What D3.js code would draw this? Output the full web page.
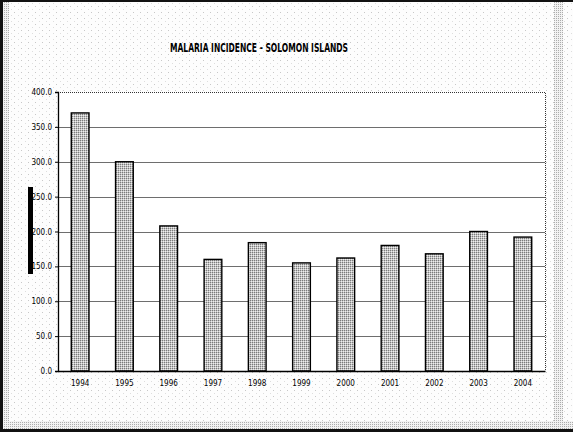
<!DOCTYPE html>
<html>
<head>
<meta charset="utf-8">
<script src="https://cdn.jsdelivr.net/npm/d3@7"></script>
<style>
  html, body { margin: 0; padding: 0; background: #fff; }
  svg { display: block; }
</style>
</head>
<body>
<svg id="chart" width="573" height="432"></svg>
<script>
// Malaria incidence, Solomon Islands, 1994-2004
const years = ["1994", "1995", "1996", "1997", "1998", "1999", "2000", "2001", "2002", "2003", "2004"];
const incidence = [370, 300, 208, 160, 184, 155, 162, 180, 168, 200, 192];
const yTicks = [0, 50, 100, 150, 200, 250, 300, 350, 400];
const chartTitle = "MALARIA INCIDENCE - SOLOMON ISLANDS";

const W = 573, H = 432;
const plot = { left: 58, right: 545, top: 92, bottom: 371 };
const narrow = "'Liberation Sans Narrow', 'DejaVu Sans Condensed', 'Arial Narrow', sans-serif";

const svg = d3.select("#chart");
const defs = svg.append("defs");

// sparse halftone for the chart background
const bg = defs.append("pattern").attr("id", "bgDots")
  .attr("width", 7).attr("height", 6).attr("patternUnits", "userSpaceOnUse");
bg.append("rect").attr("width", 7).attr("height", 6).attr("fill", "#fdfdfd");
bg.append("rect").attr("x", 0).attr("y", 0).attr("width", 1).attr("height", 1).attr("fill", "#c8c8c8");
bg.append("rect").attr("x", 4).attr("y", 3).attr("width", 1).attr("height", 1).attr("fill", "#dedede");

// dense halftone for the frame bands
const band = defs.append("pattern").attr("id", "bandDots")
  .attr("width", 2).attr("height", 2).attr("patternUnits", "userSpaceOnUse");
band.append("rect").attr("width", 2).attr("height", 2).attr("fill", "#f2f2f2");
band.append("rect").attr("x", 0).attr("y", 0).attr("width", 1).attr("height", 1).attr("fill", "#acacac");

// speckled halftone for the bars (2x2 dot grid)
const bar = defs.append("pattern").attr("id", "barDots")
  .attr("width", 2).attr("height", 2).attr("patternUnits", "userSpaceOnUse");
bar.append("rect").attr("width", 2).attr("height", 2).attr("fill", "#c4c4c4");
bar.append("rect").attr("x", 0).attr("y", 0).attr("width", 1).attr("height", 1).attr("fill", "#7c7c7c");
bar.append("rect").attr("x", 1).attr("y", 1).attr("width", 1).attr("height", 1).attr("fill", "#eeeeee");

// chart area background and frame
svg.append("rect").attr("width", W).attr("height", H).attr("fill", "url(#bgDots)");
svg.append("rect").attr("x", 3).attr("y", 2).attr("width", 6).attr("height", H - 5).attr("fill", "url(#bandDots)");
svg.append("rect").attr("x", 554).attr("y", 2).attr("width", 9).attr("height", H - 5).attr("fill", "url(#bandDots)");
svg.append("rect").attr("x", 3).attr("y", 421).attr("width", W - 3).attr("height", 8).attr("fill", "url(#bandDots)");
svg.append("rect").attr("x", 0).attr("y", 0).attr("width", W).attr("height", 2).attr("fill", "#111");
svg.append("rect").attr("x", 0).attr("y", 0).attr("width", 3).attr("height", H).attr("fill", "#111");
svg.append("rect").attr("x", 0).attr("y", 429).attr("width", W).attr("height", 3).attr("fill", "#111");

// title
svg.append("text")
  .attr("x", 259).attr("y", 52)
  .attr("text-anchor", "middle")
  .attr("font-family", narrow)
  .attr("font-weight", "bold")
  .attr("font-size", 11.5)
  .attr("textLength", 178).attr("lengthAdjust", "spacingAndGlyphs")
  .attr("fill", "#000")
  .text(chartTitle);

// y-axis title block
svg.append("rect").attr("x", 28).attr("y", 187).attr("width", 5).attr("height", 87).attr("fill", "#000");

// scales
const x = d3.scaleBand().domain(years).range([plot.left, plot.right])
  .paddingInner(0.6).paddingOuter(0.3);
const y = d3.scaleLinear().domain([0, 400]).range([plot.bottom, plot.top]);

// plot area
svg.append("rect")
  .attr("x", plot.left).attr("y", plot.top)
  .attr("width", plot.right - plot.left).attr("height", plot.bottom - plot.top)
  .attr("fill", "#fff");

// gridlines
svg.append("g").selectAll("line")
  .data(yTicks.filter(v => v > 0 && v < 400))
  .join("line")
  .attr("x1", plot.left).attr("x2", plot.right)
  .attr("y1", d => Math.round(y(d)) + 0.5).attr("y2", d => Math.round(y(d)) + 0.5)
  .attr("stroke", "#6e6e6e").attr("stroke-width", 1);

// dotted top and right border of the plot area
svg.append("path")
  .attr("d", `M${plot.left},${plot.top + 0.5}H${plot.right + 0.5}V${plot.bottom}`)
  .attr("fill", "none").attr("stroke", "#333").attr("stroke-width", 1)
  .attr("stroke-dasharray", "1,1");

// bars
svg.append("g").selectAll("rect")
  .data(incidence)
  .join("rect")
  .attr("x", (d, i) => x(years[i]))
  .attr("y", d => y(d))
  .attr("width", x.bandwidth())
  .attr("height", d => y(0) - y(d))
  .attr("fill", "url(#barDots)")
  .attr("stroke", "#000").attr("stroke-width", 1.4);

// y axis
const yAxis = svg.append("g")
  .attr("transform", `translate(${plot.left},0)`)
  .call(d3.axisLeft(y).tickValues(yTicks).tickFormat(d3.format(".1f")).tickSize(3).tickPadding(3));
yAxis.select(".domain").attr("stroke", "#000").attr("stroke-width", 1.3);
yAxis.selectAll(".tick line").attr("stroke", "#000");
yAxis.selectAll(".tick text")
  .attr("font-family", narrow).attr("font-size", 8).attr("fill", "#000");

// x axis
const xAxis = svg.append("g")
  .attr("transform", `translate(0,${plot.bottom})`)
  .call(d3.axisBottom(x).tickSize(0).tickPadding(9));
xAxis.select(".domain").attr("stroke", "#000").attr("stroke-width", 1.3);
xAxis.selectAll(".tick text")
  .attr("font-family", narrow).attr("font-size", 8).attr("fill", "#000");
</script>
</body>
</html>
